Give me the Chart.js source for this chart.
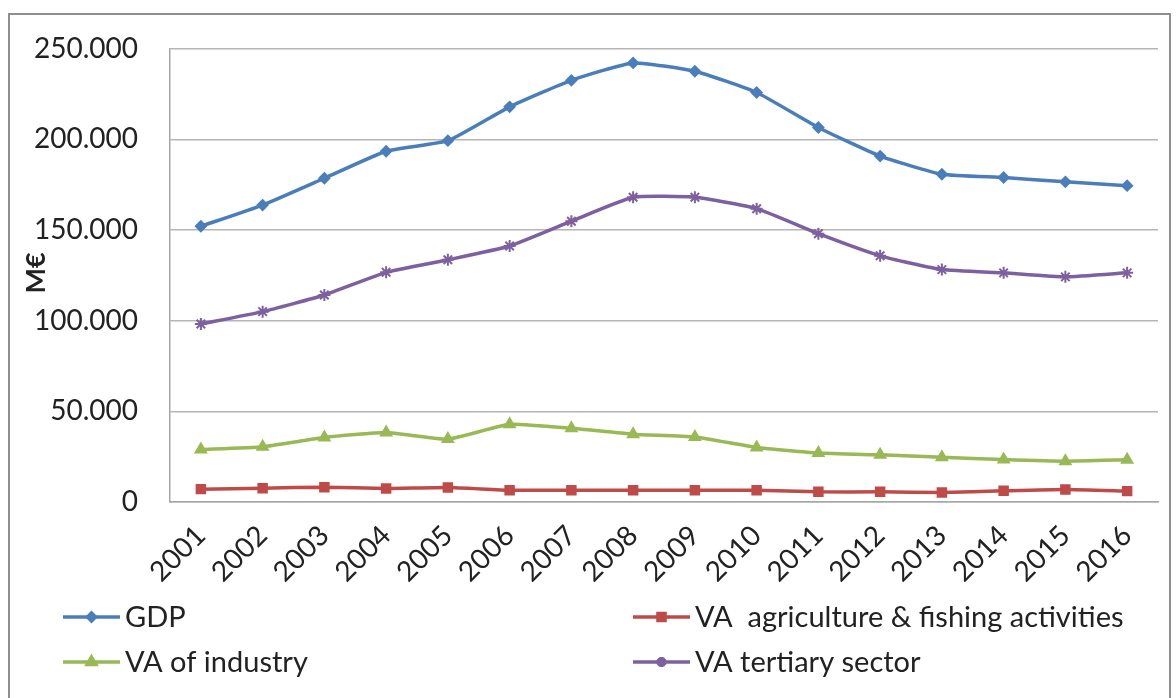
<!DOCTYPE html>
<html>
<head>
<meta charset="utf-8">
<script src="https://cdn.jsdelivr.net/npm/chart.js@4.4.1/dist/chart.umd.min.js"></script>
<style>
  html, body { margin: 0; padding: 0; background: #fff; }
  #wrap { position: relative; width: 1176px; height: 698px; overflow: hidden; }
  #frame { position: absolute; left: 8px; top: 13px; width: 1163px; height: 720px; border: 2px solid #8e8e8e; box-sizing: border-box; }
  #chart { position: absolute; left: 0; top: 0; }
</style>
</head>
<body>
<div id="wrap">
  <div id="frame"></div>
  <canvas id="chart" width="1176" height="698"></canvas>
</div>
<script>
// years on the x axis
const years = ["2001", "2002", "2003", "2004", "2005", "2006", "2007", "2008",
  "2009", "2010", "2011", "2012", "2013", "2014", "2015", "2016"];

// values in M€
const gdp = [152100, 163800, 178600, 193500, 199300, 218000, 232600, 242200,
  237600, 225900, 206600, 190800, 180800, 179000, 176600, 174500];
const agriculture = [7100, 7600, 8200, 7500, 8000, 6500, 6500, 6500,
  6500, 6500, 5600, 5600, 5300, 6200, 6900, 6000];
const industry = [28900, 30500, 35600, 38300, 34700, 42900, 40700, 37400,
  35900, 30100, 27000, 26000, 24700, 23400, 22500, 23300];
const tertiary = [98200, 105000, 114200, 126700, 133600, 141200, 154900, 168100,
  168100, 161800, 148000, 135800, 128200, 126400, 124200, 126400];

const yTicks = [0, 50000, 100000, 150000, 200000, 250000];
const yTitle = "M€";

const FONT = "Lato, 'Open Sans', sans-serif";

// 250000 -> "250.000"
const fmt = (v) => String(v).replace(/\B(?=(\d{3})+(?!\d))/g, ".");

const series = [
  { label: "GDP", data: gdp, color: "#4a7ebb", point: "rectRot", radius: 5 },
  { label: "VA  agriculture & fishing activities", data: agriculture, color: "#be4b48", point: "rect", radius: 6 },
  { label: "VA of industry", data: industry, color: "#98b954", point: "triangle", radius: 6 },
  { label: "VA tertiary sector", data: tertiary, color: "#7d60a0", point: "star", radius: 6 },
];

// rotated "M€" title
const yTitlePlugin = {
  id: "yTitle",
  afterDraw: (chart) => {
    const ctx = chart.ctx;
    ctx.save();
    ctx.translate(36, 273);
    ctx.rotate(-Math.PI / 2);
    ctx.font = "bold 27px " + FONT;
    ctx.fillStyle = "#222";
    ctx.textAlign = "center";
    ctx.textBaseline = "middle";
    ctx.fillText(yTitle, 0, 0);
    ctx.restore();
  },
};

// two-column legend under the axis
const legendPlugin = {
  id: "twoColLegend",
  afterDraw: (chart) => {
    const ctx = chart.ctx;
    const slots = [
      { x: 63, y: 617 },
      { x: 633, y: 617 },
      { x: 63, y: 662 },
      { x: 633, y: 662 },
    ];
    chart.data.datasets.forEach((ds, i) => {
      const s = slots[i];
      const len = 57;
      ctx.save();
      ctx.strokeStyle = ds.borderColor;
      ctx.fillStyle = ds.borderColor;
      ctx.lineWidth = 3.5;
      ctx.beginPath();
      ctx.moveTo(s.x, s.y);
      ctx.lineTo(s.x + len, s.y);
      ctx.stroke();
      Chart.helpers.drawPoint(ctx, {
        pointStyle: ds.pointStyle,
        radius: ds.pointRadius - 1,
        borderWidth: 2,
        rotation: 0,
      }, s.x + len / 2, s.y);
      ctx.font = "29px " + FONT;
      ctx.fillStyle = "#222";
      ctx.textAlign = "left";
      ctx.textBaseline = "middle";
      ctx.fillText(ds.label, s.x + len + 5, s.y + 1);
      ctx.restore();
    });
  },
};

const renderChart = () => {
  const el = document.getElementById("chart");

  new Chart(el, {
    type: "line",
    data: {
      labels: years,
      datasets: series.map((s) => ({
        label: s.label,
        data: s.data,
        borderColor: s.color,
        backgroundColor: s.color,
        borderWidth: 3.5,
        pointStyle: s.point,
        pointRadius: s.radius,
        pointBorderWidth: 2,
        pointBackgroundColor: s.color,
        pointBorderColor: s.color,
        tension: 0.15,
      })),
    },
    options: {
      responsive: false,
      animation: false,
      devicePixelRatio: 1,
      layout: { padding: { left: 0, top: 43, right: 18, bottom: 96 } },
      plugins: {
        legend: { display: false },
        tooltip: { enabled: false },
      },
      scales: {
        x: {
          offset: true,
          grid: { display: false, drawTicks: false },
          border: { display: true, color: "#a6a6a6", width: 1.5 },
          ticks: {
            minRotation: 45,
            maxRotation: 45,
            padding: 17,
            color: "#222",
            font: { family: FONT, size: 28 },
          },
          afterFit: (axis) => { axis.height = 100; },
        },
        y: {
          min: 0,
          max: 250000,
          afterBuildTicks: (axis) => { axis.ticks = yTicks.map((v) => ({ value: v })); },
          grid: { color: "#b5b5b5", lineWidth: 1.5, drawTicks: false },
          border: { display: true, color: "#a6a6a6", width: 1.5 },
          ticks: {
            padding: 32,
            color: "#222",
            font: { family: FONT, size: 28 },
            callback: (v) => fmt(v),
          },
          afterFit: (axis) => { axis.width = 170; },
        },
      },
    },
    plugins: [yTitlePlugin, legendPlugin],
  });
};

renderChart();
</script>
</body>
</html>
